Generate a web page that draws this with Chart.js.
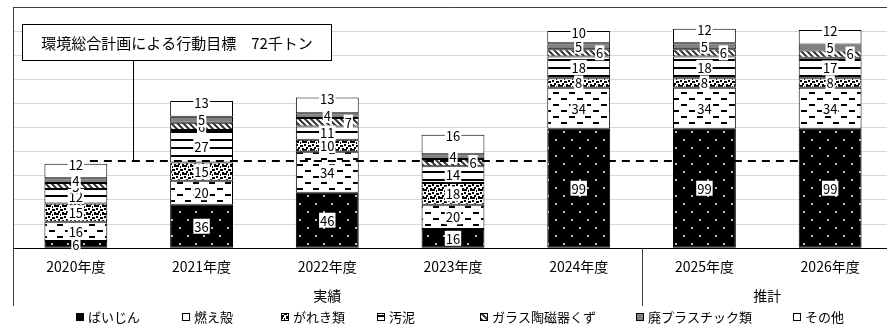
<!DOCTYPE html>
<html lang="ja">
<head>
<meta charset="utf-8">
<script src="https://cdn.jsdelivr.net/npm/chart.js@4.4.1/dist/chart.umd.min.js"></script>
<style>
html, body { margin: 0; padding: 0; overflow: hidden; background: #fff; }
#wrap { width: 894px; height: 329px; }
</style>
</head>
<body>
<div id="wrap"><canvas id="canvas"></canvas></div>
<script>
// data (千トン)
var years = ['2020年度', '2021年度', '2022年度', '2023年度', '2024年度', '2025年度', '2026年度'];
var baijin = [6, 36, 46, 16, 99, 99, 99];
var moegara = [16, 20, 34, 20, 34, 34, 34];
var gareki = [15, 15, 10, 18, 8, 8, 8];
var odei = [12, 27, 11, 14, 18, 18, 17];
var glass = [5, 6, 7, 6, 6, 6, 6];
var plastic = [4, 5, 4, 4, 5, 5, 5];
var sonota = [12, 13, 13, 16, 10, 12, 12];
var target = 72;
var groups = [{ label: '実績', from: 0, to: 4 }, { label: '推計', from: 5, to: 6 }];
var FONT = '"Noto Sans CJK JP", "Noto Sans", sans-serif';

Chart.defaults.font.family = FONT;
Chart.defaults.color = '#000';

var ctx = document.getElementById('canvas');
var c2d = ctx.getContext('2d');

function makePattern(w, h, bg, draw) {
  var c = document.createElement('canvas');
  c.width = w; c.height = h;
  var g = c.getContext('2d');
  g.fillStyle = bg;
  g.fillRect(0, 0, w, h);
  draw(g);
  return c2d.createPattern(c, 'repeat');
}

// patterns like the excel fills
var patDots = makePattern(16, 16, '#000', function (g) {
  g.fillStyle = '#bdbdbd';
  g.fillRect(3, 3, 2, 2);
  g.fillRect(11, 11, 2, 2);
});
var patDash = makePattern(16, 12, '#fff', function (g) {
  g.fillStyle = '#000';
  g.fillRect(1, 2, 6, 2);
  g.fillRect(9, 8, 6, 2);
});
var patConfetti = makePattern(8, 8, '#fff', function (g) {
  g.fillStyle = '#000';
  g.fillRect(0, 0, 2, 2);
  g.fillRect(4, 1, 3, 2);
  g.fillRect(2, 3, 2, 2);
  g.fillRect(6, 4, 2, 3);
  g.fillRect(0, 5, 3, 2);
  g.fillRect(4, 6, 1, 2);
});
var patLines = makePattern(8, 8, '#fff', function (g) {
  g.fillStyle = '#000';
  g.fillRect(0, 3, 8, 2);
});
var patHatch = makePattern(6, 6, '#fff', function (g) {
  g.strokeStyle = '#333';
  g.lineWidth = 2;
  g.beginPath();
  g.moveTo(-1, -1); g.lineTo(7, 7);
  g.moveTo(-4, 2); g.lineTo(4, 10);
  g.moveTo(2, -4); g.lineTo(10, 4);
  g.stroke();
});

function ds(label, data, fill, extra) {
  var d = {
    label: label,
    data: data,
    backgroundColor: fill,
    borderColor: '#000',
    borderWidth: 1,
    borderSkipped: false,
    categoryPercentage: 1,
    barPercentage: 0.5
  };
  for (var k in extra) d[k] = extra[k];
  return d;
}

var datasets = [
  ds('ばいじん', baijin, patDots),
  ds('燃え殻', moegara, patDash),
  ds('がれき類', gareki, patConfetti),
  ds('汚泥', odei, patLines),
  ds('ガラス陶磁器くず', glass, patHatch, { labelShift: [0, 0, 21, 20, 21, 19, 20] }),
  ds('廃プラスチック類', plastic, '#808080'),
  ds('その他', sonota, '#fff', { labelAtTop: true })
];

// legend box x positions, as in the reference
var legendX = [76, 182, 281, 377, 480, 636, 793];

var extras = {
  id: 'extras',
  afterDatasetsDraw: function (chart) {
    var g = chart.ctx, x = chart.scales.x, y = chart.scales.y;
    var ty = Math.round(y.getPixelForValue(target));
    g.save();
    // target line
    g.strokeStyle = '#000';
    g.lineWidth = 2;
    g.setLineDash([8, 6]);
    g.beginPath();
    g.moveTo(x.getPixelForValue(0), ty);
    g.lineTo(x.getPixelForValue(years.length - 1), ty);
    g.stroke();
    g.setLineDash([]);

    // value labels
    g.font = '13px ' + FONT;
    g.textAlign = 'center';
    g.textBaseline = 'middle';
    chart.data.datasets.forEach(function (d, di) {
      var meta = chart.getDatasetMeta(di);
      meta.data.forEach(function (bar, i) {
        var t = String(d.data[i]);
        var px = bar.x + (d.labelShift ? d.labelShift[i] : 0);
        var py = d.labelAtTop ? bar.y + 1 : (bar.y + bar.base) / 2;
        var w = g.measureText(t).width + 2;
        g.fillStyle = '#fff';
        g.fillRect(px - w / 2, py - 7.5, w, 15);
        g.fillStyle = '#000';
        g.fillText(t, px, py + 0.5);
      });
    });

    // callout
    g.strokeStyle = '#000';
    g.lineWidth = 1;
    g.beginPath();
    g.moveTo(133.5, 60);
    g.lineTo(133.5, ty);
    g.stroke();
    g.fillStyle = '#fff';
    g.fillRect(22.5, 24.5, 309, 36);
    g.strokeRect(22.5, 24.5, 309, 36);
    g.fillStyle = '#000';
    g.font = '15px ' + FONT;
    g.fillText('環境総合計画による行動目標　72千トン', 177, 43);
    g.restore();
  },
  afterDraw: function (chart) {
    var g = chart.ctx, x = chart.scales.x, a = chart.chartArea;
    g.save();
    g.strokeStyle = '#404040';
    g.lineWidth = 1;
    g.beginPath();
    g.moveTo(a.left + 0.5, a.top + 0.5);
    g.lineTo(a.right, a.top + 0.5);
    g.moveTo(a.left + 0.5, a.top);
    g.lineTo(a.left + 0.5, 306);
    var sep = Math.round((x.getPixelForValue(4) + x.getPixelForValue(5)) / 2) + 0.5;
    g.moveTo(sep, a.bottom);
    g.lineTo(sep, 306);
    g.stroke();

    // group labels
    g.fillStyle = '#000';
    g.font = '14px ' + FONT;
    g.textAlign = 'center';
    g.textBaseline = 'middle';
    groups.forEach(function (gr) {
      var cx = (x.getPixelForValue(gr.from) + x.getPixelForValue(gr.to)) / 2;
      g.fillText(gr.label, cx, 296);
    });

    // legend
    g.font = '13px ' + FONT;
    g.textAlign = 'left';
    var ly = 317;
    chart.data.datasets.forEach(function (d, i) {
      var lx = legendX[i];
      g.fillStyle = d.backgroundColor;
      g.fillRect(lx + 0.5, ly - 3.5, 7, 7);
      g.strokeStyle = '#000';
      g.strokeRect(lx + 0.5, ly - 3.5, 7, 7);
      g.fillStyle = '#000';
      g.fillText(d.label, lx + 12, ly + 0.5);
    });
    g.restore();
  }
};

new Chart(ctx, {
  type: 'bar',
  data: { labels: years, datasets: datasets },
  options: {
    responsive: true,
    maintainAspectRatio: false,
    animation: false,
    layout: { padding: { left: 13, top: 7, right: 1, bottom: 44 } },
    plugins: { legend: { display: false }, tooltip: { enabled: false } },
    scales: {
      x: {
        stacked: true,
        grid: { display: false, drawTicks: false },
        border: { display: true, color: '#000' },
        ticks: { padding: 10, font: { size: 14 }, color: '#000', maxRotation: 0, autoSkip: false }
      },
      y: {
        stacked: true,
        min: 0,
        max: 200,
        ticks: { display: false, stepSize: 20 },
        grid: { color: '#d9d9d9', drawTicks: false },
        border: { display: false }
      }
    }
  },
  plugins: [extras]
});
</script>
</body>
</html>
